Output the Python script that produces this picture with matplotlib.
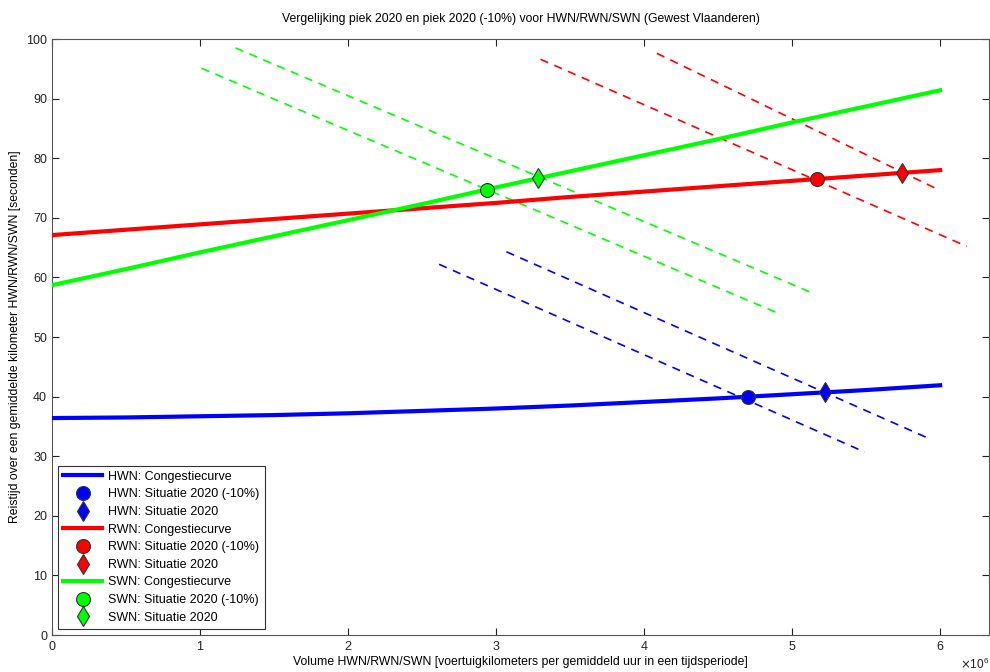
import matplotlib
matplotlib.use("Agg")
import matplotlib.pyplot as plt
import numpy as np

plt.rcParams['font.family'] = ['Liberation Sans', 'DejaVu Sans']
plt.rcParams['font.size'] = 8.8

# congestion curves (x in vehicle-km per hour)
curve_x = [0, 0.5e6, 1e6, 1.5e6, 2e6, 2.5e6, 3e6, 3.5e6, 4e6, 4.5e6, 5e6, 5.5e6, 6e6]
hwn_curve = [36.4, 36.5, 36.7, 36.9, 37.2, 37.6, 38.0, 38.5, 39.1, 39.7, 40.4, 41.1, 41.9]
rwn_curve = [67.1, 68.0, 68.9, 69.8, 70.7, 71.6, 72.5, 73.5, 74.4, 75.3, 76.2, 77.1, 78.0]
swn_curve = [58.7, 61.4, 64.2, 66.9, 69.6, 72.3, 75.1, 77.8, 80.5, 83.2, 86.0, 88.7, 91.4]

# situation points: (-10%) and 2020
hwn_pts_x = [4.70e6, 5.22e6]
hwn_pts_y = [40.0, 40.7]
rwn_pts_x = [5.17e6, 5.74e6]
rwn_pts_y = [76.5, 77.6]
swn_pts_x = [2.94e6, 3.28e6]
swn_pts_y = [74.7, 76.6]

# dashed iso lines through each point (start, end)
hwn_iso_x = [[2.615e6, 5.49e6], [3.07e6, 5.94e6]]
hwn_iso_y = [[62.2, 30.7], [64.3, 32.8]]
rwn_iso_x = [[3.30e6, 6.18e6], [4.086e6, 5.99e6]]
rwn_iso_y = [[96.6, 65.2], [97.6, 74.7]]
swn_iso_x = [[1.01e6, 4.905e6], [1.24e6, 5.135e6]]
swn_iso_y = [[95.1, 54.0], [98.5, 57.4]]

series = [
    ("HWN", "#0000ff", hwn_curve, hwn_pts_x, hwn_pts_y, hwn_iso_x, hwn_iso_y),
    ("RWN", "#ff0000", rwn_curve, rwn_pts_x, rwn_pts_y, rwn_iso_x, rwn_iso_y),
    ("SWN", "#00ff00", swn_curve, swn_pts_x, swn_pts_y, swn_iso_x, swn_iso_y),
]

fig = plt.figure(figsize=(9.9, 6.72), dpi=100)
fig.patch.set_facecolor('white')
ax = fig.add_axes([52 / 990, 37 / 672, 937 / 990, 596 / 672])

for name, color, curve, px, py, ix, iy in series:
    ax.plot(curve_x, curve, color=color, linewidth=3, label=f"{name}: Congestiecurve", zorder=3)
    ax.plot(px[0], py[0], 'o', color=color, markersize=10, markeredgecolor='#333333',
            markeredgewidth=0.8, label=f"{name}: Situatie 2020 (-10%)", zorder=4)
    ax.plot(px[1], py[1], 'd', color=color, markersize=10, markeredgecolor='#333333',
            markeredgewidth=0.8, label=f"{name}: Situatie 2020", zorder=4)
    for xs, ys in zip(ix, iy):
        ax.plot(xs, ys, color=color, linewidth=1.2, linestyle=(0, (5, 4)), zorder=2)

ax.set_xlim(0, 6.33e6)
ax.set_ylim(0, 100)
ax.set_xticks(np.arange(0, 7e6, 1e6))
ax.set_yticks(np.arange(0, 101, 10))
ax.ticklabel_format(axis='x', style='sci', scilimits=(6, 6), useMathText=True)
ax.tick_params(direction='in', top=True, right=True, length=5, width=0.8, colors='#222222', labelsize=9)
for sp in ax.spines.values():
    sp.set_color('#555555')
    sp.set_linewidth(0.8)

ax.xaxis.get_offset_text().set_size(8.5)

ax.set_title("Vergelijking piek 2020 en piek 2020 (-10%) voor HWN/RWN/SWN (Gewest Vlaanderen)",
             fontsize=8.8, pad=12)
ax.set_xlabel("Volume HWN/RWN/SWN [voertuigkilometers per gemiddeld uur in een tijdsperiode]",
              fontsize=8.8, labelpad=2)
ax.set_ylabel("Reistijd over een gemiddelde kilometer HWN/RWN/SWN [seconden]", fontsize=8.8, labelpad=4)

leg = ax.legend(loc='lower left', fontsize=9, frameon=True, fancybox=False,
                edgecolor='#333333', framealpha=1, handlelength=3.1, labelspacing=0.45,
                borderaxespad=0.5, handletextpad=0.5, borderpad=0.4)
leg.get_frame().set_linewidth(0.8)

fig.savefig("out.png", dpi=100, facecolor='white')
plt.close(fig)
